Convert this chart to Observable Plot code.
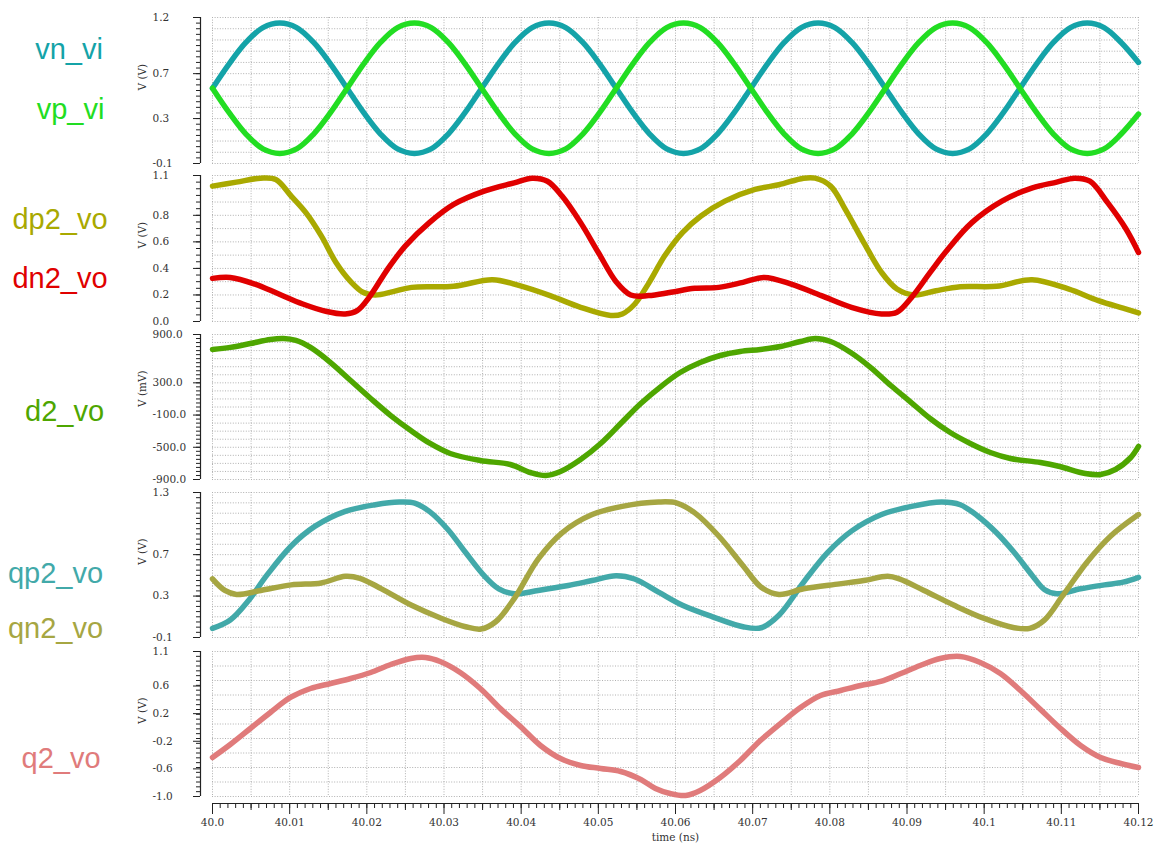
<!DOCTYPE html>
<html><head><meta charset="utf-8">
<script src="https://cdn.jsdelivr.net/npm/d3@7"></script>
<script src="https://cdn.jsdelivr.net/npm/@observablehq/plot@0.6"></script>
<style>
body{margin:0;background:#fff;}
#chart{position:relative;width:1156px;height:843px;overflow:hidden;background:#fff;}
</style></head><body><div id="chart"></div>
<script>
// ---------- data (time given in ps after 40 ns) ----------
const T0 = 40;
const xTickLabels = ["40.0","40.01","40.02","40.03","40.04","40.05","40.06","40.07","40.08","40.09","40.1","40.11","40.12"];

// panel 1
const tVi = [0,2.18,4.36,6.54,8.72,10.9,13.08,15.26,17.44,19.62,21.8,23.98,26.16,28.34,30.52,32.7,34.88,37.06,39.24,41.42,43.6,45.78,47.96,50.14,52.32,54.5,56.68,58.86,61.04,63.22,65.4,67.58,69.76,71.94,74.12,76.3,78.48,80.66,82.84,85.02,87.2,89.38,91.56,93.74,95.92,98.1,100.28,102.46,104.64,106.82,109,111.18,113.36,115.54,117.72,120];
const vnVi = [0.57,0.79,0.98,1.11,1.15,1.11,0.98,0.79,0.57,0.35,0.16,0.03,-0.01,0.03,0.16,0.35,
              0.57,0.79,0.98,1.11,1.15,1.11,0.98,0.79,0.57,0.35,0.16,0.03,-0.01,0.03,0.16,0.35,
              0.57,0.79,0.98,1.11,1.15,1.11,0.98,0.79,0.57,0.35,0.16,0.03,-0.01,0.03,0.16,0.35,
              0.57,0.79,0.98,1.11,1.15,1.11,0.98,0.80];
const vpVi = [0.57,0.35,0.16,0.03,-0.01,0.03,0.16,0.35,0.57,0.79,0.98,1.11,1.15,1.11,0.98,0.79,
              0.57,0.35,0.16,0.03,-0.01,0.03,0.16,0.35,0.57,0.79,0.98,1.11,1.15,1.11,0.98,0.79,
              0.57,0.35,0.16,0.03,-0.01,0.03,0.16,0.35,0.57,0.79,0.98,1.11,1.15,1.11,0.98,0.79,
              0.57,0.35,0.16,0.03,-0.01,0.03,0.16,0.34];
const p1TickLabels = ["1.2","0.7","0.3","-0.1"];

// panel 2
const tDp2 = [0,3.1,6.25,8.2,10.2,12.1,14.1,16,18,19.5,21.1,23.4,25.8,31.25,36.3,39.8,43.75,47.7,51.6,53.1,54.7,56.6,58.6,60.9,63.3,66.4,70.3,73.4,76.6,78.1,80.1,82,84.4,86.7,88.7,91,93.75,96.9,101.6,106.2,110.9,114.8,118,120];
const dp2Vo = [1.02,1.05,1.08,1.07,0.945,0.82,0.645,0.445,0.295,0.22,0.2,0.225,0.257,0.265,0.315,0.27,0.195,0.107,0.045,0.057,0.13,0.295,0.495,0.67,0.795,0.907,0.995,1.03,1.08,1.08,1.02,0.845,0.595,0.37,0.245,0.2,0.232,0.262,0.265,0.315,0.245,0.157,0.1,0.065];
const tDn2 = [0,2.3,5.5,8.6,11.7,14.8,17.2,18.75,20.3,22.7,25,28.1,31.25,35.2,39.1,41.4,43.4,45.3,47.7,50,52.3,54.2,56.5,59.4,62.5,65.6,68.75,71.5,75,78.9,82.8,86.7,88.7,90.6,93,95.3,98.4,102.3,106.25,109.4,111.7,113.7,116,118.4,120];
const dn2Vo = [0.325,0.332,0.282,0.207,0.132,0.075,0.057,0.082,0.182,0.395,0.57,0.745,0.882,0.982,1.045,1.08,1.057,0.945,0.745,0.52,0.3,0.2,0.195,0.22,0.25,0.257,0.295,0.332,0.282,0.195,0.107,0.057,0.07,0.182,0.37,0.545,0.745,0.907,1.007,1.05,1.08,1.057,0.895,0.695,0.52];
const p2TickLabels = ["1.1","0.8","0.6","0.4","0.2","0.0"];

// panel 3 (mV)
const tD2 = [0,2.3,4.9,7.5,9.2,10.8,12.7,15.3,17.9,20.5,23.1,25.7,28.2,30.8,34.7,38.6,41.2,43.2,45.1,47.7,50.3,52.9,55.5,58.1,60.6,63.2,65.8,68.4,71,73.6,76.2,78.1,80.1,82.7,85.3,87.9,90.4,93,95.6,98.2,100.8,103.4,107.3,109.8,113.1,115.1,117,119,120];
const d2Vo = [714,740,788,838,850,826,739,552,329,106,-106,-292,-453,-577,-664,-714,-813,-850,-801,-652,-453,-205,43,254,428,552,639,689,714,751,813,850,813,677,490,267,68,-143,-317,-453,-565,-639,-689,-739,-826,-838,-776,-627,-490];
const p3TickLabels = ["900.0","300.0","-100.0","-500.0","-900.0"];

// panel 4
const tQp2 = [0,2.3,4.7,7,10.2,13.3,17.2,21.1,24.2,26.2,28.1,30.5,32.8,35.2,37.1,39.1,42.2,46.1,49.2,52.3,54.7,57.8,60.9,64.8,68.75,71.1,73.4,76.6,79.7,82.8,86.7,90.6,94.5,96.9,99.2,101.6,103.9,106.25,107.8,109.4,112.5,115.6,118,120];
const qp2Vo = [-0.012,0.068,0.259,0.497,0.784,0.975,1.118,1.182,1.208,1.198,1.118,0.943,0.72,0.497,0.37,0.322,0.354,0.402,0.45,0.497,0.465,0.338,0.211,0.1,0.004,-0.006,0.115,0.434,0.72,0.927,1.087,1.166,1.208,1.182,1.071,0.911,0.72,0.497,0.364,0.322,0.37,0.408,0.434,0.481];
const tQn2 = [0,1.6,3.1,6.25,10.2,14.1,17.2,19.1,21.9,25.8,29.7,32.8,34.8,36.7,39.1,42.2,45.3,49.2,53.1,57.8,60.2,62.5,65.6,68.75,71.1,73.4,76.6,81.25,84.4,87.5,89,92.2,96.1,100,103.9,105.9,107.8,110.2,113.3,116.4,120];
const qn2Vo = [0.466,0.354,0.316,0.354,0.408,0.427,0.491,0.472,0.37,0.211,0.084,0.004,-0.018,0.052,0.275,0.657,0.911,1.087,1.166,1.208,1.198,1.103,0.88,0.593,0.386,0.316,0.37,0.418,0.45,0.491,0.466,0.354,0.211,0.084,-0.006,-0.012,0.068,0.306,0.625,0.88,1.087];
const p4TickLabels = ["1.3","0.7","0.3","-0.1"];

// panel 5
const tQ2 = [0,2.3,4.9,7.5,10.1,12.7,15.3,17.9,20.5,23.1,25.7,27.6,29.5,32.1,34.7,37.3,39.9,42.5,45.1,47.7,50.3,52.9,55.5,57.4,59.3,61.3,63.2,65.8,68.4,71,73.6,76.2,78.8,81.4,84,86.6,89.2,91.7,94.3,96.9,99.5,102.1,104.7,107.3,109.9,112.5,115.1,117.7,120];
const q2Vo = [-0.435,-0.247,-0.015,0.217,0.434,0.564,0.637,0.709,0.796,0.912,0.999,1.013,0.955,0.796,0.564,0.275,0.014,-0.261,-0.45,-0.551,-0.594,-0.638,-0.754,-0.884,-0.957,-0.986,-0.913,-0.725,-0.478,-0.189,0.057,0.289,0.463,0.535,0.608,0.666,0.781,0.897,0.999,1.028,0.941,0.781,0.535,0.26,-0.015,-0.261,-0.435,-0.522,-0.58];
const p5TickLabels = ["1.1","0.6","0.2","-0.2","-0.6","-1.0"];

// ---------- layout / styling ----------
const tickFont = "DejaVu Serif";
const tickSize = 10.5;
const gridStyle = {stroke:"#b0b0b0", strokeOpacity:1, strokeWidth:1, strokeDasharray:"1,1.6"};

const panels = [
  {top:17, bottom:163, domain:[-0.1,1.2], grid:0.1, minor:0.05, labels:p1TickLabels, unit:"V (V)",
   series:[{name:"vn_vi", t:tVi, v:vnVi, color:"#14a3a8", dx:-143.5, dy:-41},
           {name:"vp_vi", t:tVi, v:vpVi, color:"#22dd22", dx:-142, dy:19}]},
  {top:175, bottom:321, domain:[0,1.1], grid:0.1, minor:0.05, labels:p2TickLabels, unit:"V (V)",
   series:[{name:"dp2_vo", t:tDp2, v:dp2Vo, color:"#a9a900", dx:-152.5, dy:-29},
           {name:"dn2_vo", t:tDn2, v:dn2Vo, color:"#e00000", dx:-152.5, dy:30}]},
  {top:334, bottom:479, domain:[-900,900], grid:100, minor:50, labels:p3TickLabels, unit:"V (mV)",
   series:[{name:"d2_vo", t:tD2, v:d2Vo, color:"#4ea600", dx:-148, dy:5}]},
  {top:492, bottom:637, domain:[-0.1,1.3], grid:0.1, minor:0.05, labels:p4TickLabels, unit:"V (V)",
   series:[{name:"qp2_vo", t:tQp2, v:qp2Vo, color:"#42a9a9", dx:-157, dy:9},
           {name:"qn2_vo", t:tQn2, v:qn2Vo, color:"#a6a642", dx:-157, dy:64}]},
  {top:651, bottom:796, domain:[-1.0,1.1], grid:0.21, minor:0.07, labels:p5TickLabels, unit:"V (V)",
   series:[{name:"q2_vo", t:tQ2, v:q2Vo, color:"#e07b7b", dx:-151.5, dy:35}]}
];

const xDomain = [T0, T0 + 0.12];
const xGrid = d3.range(0, 25).map(i => T0 + i*0.005);
const xMinor = d3.range(0, 121).map(i => T0 + i*0.001);
const xMid = d3.range(0, 12).map(i => T0 + 0.005 + i*0.01);
const xMajor = xTickLabels.map(Number);

const chart = document.getElementById("chart");

panels.forEach((p, idx) => {
  const last = idx === panels.length - 1;
  const mt = 14, mb = last ? 47 : 10;
  const H = p.bottom - p.top;
  const [y0, y1] = p.domain;
  const nGrid = Math.round((y1 - y0) / p.grid);
  const yGrid = d3.range(0, nGrid + 1).map(i => y0 + i*p.grid);
  const nMinor = Math.round((y1 - y0) / p.minor);
  const yMinor = d3.range(0, nMinor + 1).map(i => y0 + i*p.minor);
  const yMajor = p.labels.map(Number);

  const marks = [
    Plot.gridX(xGrid, gridStyle),
    Plot.gridY(yGrid, gridStyle),
    Plot.ruleX([xDomain[0]], {dx:-12, stroke:"#222", strokeWidth:1.2}),
    Plot.axisY(yMinor, {anchor:"left", tickSize:4, tickFormat:() => "", label:null, dx:-12, stroke:"#222"}),
    Plot.axisY(yMajor, {anchor:"left", tickSize:7, tickFormat:() => "", label:null, dx:-12, stroke:"#222"}),
    Plot.text(p.labels, {y:d => +d, text:d => d, frameAnchor:"left", dx:-60, textAnchor:"start",
      fontSize:tickSize, fontFamily:tickFont, fill:"#333"}),
    Plot.text([p.unit], {text:d => d, frameAnchor:"left", dx:-70, rotate:-90,
      fontSize:tickSize, fontFamily:tickFont, fill:"#333"}),
    ...p.series.map(s => Plot.line(s.t.map((t, i) => ({x:T0 + t/1000, y:s.v[i]})),
      {x:"x", y:"y", stroke:s.color, strokeWidth:5.5, curve:"catmull-rom", strokeLinejoin:"round", strokeLinecap:"round"})),
    ...p.series.map(s => Plot.text([s.name], {text:d => d, frameAnchor:"left", dx:s.dx, dy:s.dy,
      textAnchor:"middle", fontSize:29, fontFamily:"Liberation Sans", fill:s.color}))
  ];
  if (last) {
    marks.push(
      Plot.ruleY([y0], {dy:7, stroke:"#222", strokeWidth:1.2}),
      Plot.axisX(xMinor, {anchor:"bottom", tickSize:5, tickFormat:() => "", label:null, dy:7, stroke:"#222"}),
      Plot.axisX(xMid, {anchor:"bottom", tickSize:7, tickFormat:() => "", label:null, dy:7, stroke:"#222"}),
      Plot.axisX(xMajor, {anchor:"bottom", tickSize:11, tickPadding:4, tickFormat:(d, i) => xTickLabels[i],
        label:null, dy:7, stroke:"#222", fontSize:tickSize, fontFamily:tickFont, fill:"#333"}),
      Plot.text(["time (ns)"], {text:d => d, frameAnchor:"bottom", dy:44, fontSize:tickSize, fontFamily:tickFont, fill:"#333"})
    );
  }
  const svg = Plot.plot({
    width:1156, height:H + mt + mb,
    marginLeft:212, marginRight:18, marginTop:mt, marginBottom:mb,
    x:{domain:xDomain, axis: last ? undefined : null},
    y:{domain:p.domain, label:null},
    style:{position:"absolute", left:"0px", top:(p.top - mt) + "px", overflow:"visible", background:"transparent", maxWidth:"none"},
    marks
  });
  chart.appendChild(svg);
});
</script></body></html>
